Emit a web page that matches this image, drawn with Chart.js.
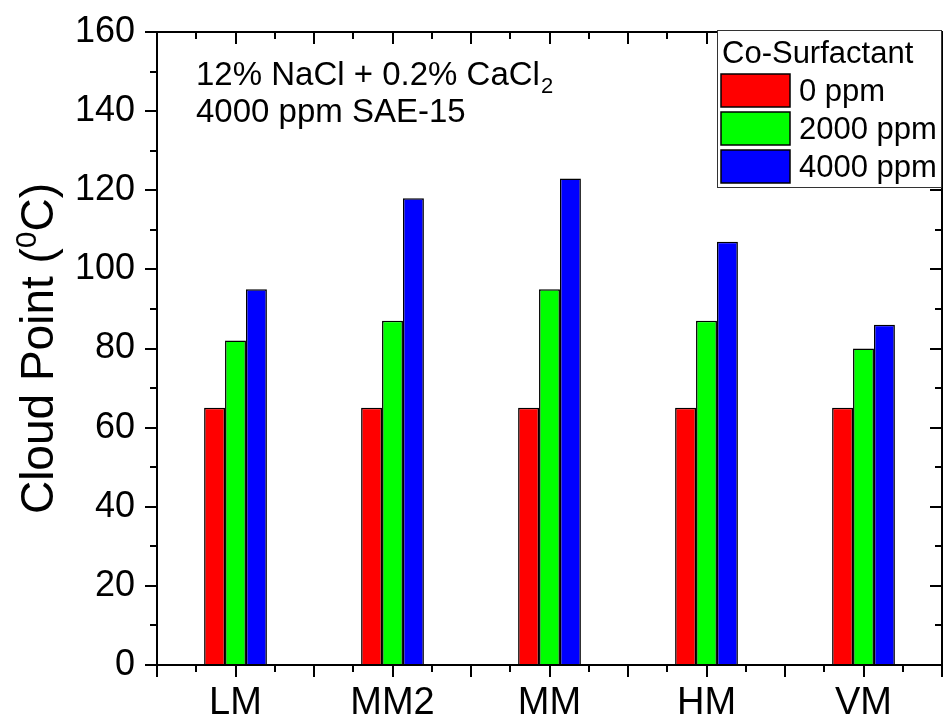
<!DOCTYPE html>
<html>
<head>
<meta charset="utf-8">
<script src="https://cdn.jsdelivr.net/npm/chart.js@4.4.1/dist/chart.umd.min.js"></script>
<style>
  html, body { margin: 0; padding: 0; background: #fff; }
  canvas { display: block; }
</style>
</head>
<body>
<canvas id="cloudChart" width="943" height="717"></canvas>
<script>
// data
const categories = ['LM', 'MM2', 'MM', 'HM', 'VM'];
const seriesLabels = ['0 ppm', '2000 ppm', '4000 ppm'];
const cp0ppm = [65, 65, 65, 65, 65];
const cp2000ppm = [82, 87, 95, 87, 80];
const cp4000ppm = [95, 118, 123, 107, 86];
const yMin = 0, yMax = 160, yStep = 20;

const FONT = "'Liberation Sans', Arial, sans-serif";
const barColors = ['#ff0000', '#00ff00', '#0000ff'];

// frame + ticks on all four sides (Origin style)
const framePlugin = {
    id: 'frame',
    afterDraw(chart) {
        const ctx = chart.ctx;
        const a = chart.chartArea;
        const xs = chart.scales.x, ys = chart.scales.y;
        ctx.save();
        ctx.strokeStyle = '#000';
        ctx.lineWidth = 2;
        ctx.strokeRect(a.left, a.top, a.right - a.left, a.bottom - a.top);

        const major = 12, minor = 7;
        ctx.beginPath();
        // y ticks
        for (let v = yMin; v <= yMax; v += yStep / 2) {
            const y = Math.round(ys.getPixelForValue(v));
            const len = (v % yStep === 0) ? major : minor;
            ctx.moveTo(a.left - len, y); ctx.lineTo(a.left, y);
            ctx.moveTo(a.right, y); ctx.lineTo(a.right - len, y);
        }
        // x ticks: major at categories and half way, minor in between
        const step = xs.getPixelForValue(1) - xs.getPixelForValue(0);
        for (let i = 0; i < categories.length; i++) {
            const c = xs.getPixelForValue(i);
            [[-0.5, major], [-0.25, minor], [0, major], [0.25, minor], [0.5, major]].forEach(function(t) {
                const x = Math.round(c + t[0] * step);
                ctx.moveTo(x, a.bottom); ctx.lineTo(x, a.bottom + t[1]);
                ctx.moveTo(x, a.top); ctx.lineTo(x, a.top + t[1]);
            });
        }
        ctx.stroke();

        // y axis title with superscript
        ctx.fillStyle = '#000';
        ctx.textBaseline = 'alphabetic';
        ctx.textAlign = 'left';
        const big = '46px ' + FONT, sup = '30px ' + FONT;
        ctx.font = big;
        const p1 = 'Cloud Point (', p3 = 'C)';
        const w1 = ctx.measureText(p1).width, w3 = ctx.measureText(p3).width;
        ctx.font = sup;
        const w2 = ctx.measureText('0').width;
        const total = w1 + w2 + w3;
        ctx.translate(53, (a.top + a.bottom) / 2);
        ctx.rotate(-Math.PI / 2);
        let x0 = -total / 2;
        ctx.font = big; ctx.fillText(p1, x0, 0);
        ctx.font = sup; ctx.fillText('0', x0 + w1, -17);
        ctx.font = big; ctx.fillText(p3, x0 + w1 + w2, 0);
        ctx.restore();

        // annotation
        ctx.save();
        ctx.fillStyle = '#000';
        ctx.textBaseline = 'alphabetic';
        ctx.font = '33px ' + FONT;
        const line1 = '12% NaCl + 0.2% CaCl';
        ctx.fillText(line1, 196, 85);
        const lw = ctx.measureText(line1).width;
        ctx.font = '22px ' + FONT;
        ctx.fillText('2', 196 + lw + 1, 93);
        ctx.font = '33px ' + FONT;
        ctx.fillText('4000 ppm SAE-15', 196, 122);
        ctx.restore();

        // legend box
        ctx.save();
        const lx = 717, ly = 30, lwid = 225, lh = 158;
        ctx.fillStyle = '#fff';
        ctx.fillRect(lx, ly, lwid, lh);
        ctx.strokeStyle = '#333';
        ctx.lineWidth = 1;
        ctx.strokeRect(lx + 0.5, ly + 0.5, lwid - 1, lh - 1);
        ctx.fillStyle = '#000';
        ctx.font = '31px ' + FONT;
        ctx.textBaseline = 'alphabetic';
        ctx.fillText('Co-Surfactant', lx + 5, 63);
        ctx.textBaseline = 'middle';
        chart.data.datasets.forEach(function(ds, i) {
            const top = 74 + i * 38;
            ctx.fillStyle = ds.backgroundColor;
            ctx.fillRect(lx + 4, top, 69, 33);
            ctx.strokeStyle = '#000';
            ctx.lineWidth = 1.5;
            ctx.strokeRect(lx + 4, top, 69, 33);
            ctx.fillStyle = '#000';
            ctx.fillText(ds.label, lx + 82, top + 18);
        });
        ctx.restore();
    }
};

const ctx = document.getElementById('cloudChart').getContext('2d');
new Chart(ctx, {
    type: 'bar',
    data: {
        labels: categories,
        datasets: [cp0ppm, cp2000ppm, cp4000ppm].map(function(vals, i) {
            return {
                label: seriesLabels[i],
                data: vals,
                backgroundColor: barColors[i],
                borderColor: '#000',
                borderWidth: 1.5,
                categoryPercentage: 0.4,
                barPercentage: 1.0
            };
        })
    },
    options: {
        responsive: false,
        animation: false,
        layout: { padding: { left: 0, right: 1, top: 32, bottom: 0 } },
        plugins: { legend: { display: false }, tooltip: { enabled: false } },
        scales: {
            x: {
                grid: { display: false, drawTicks: false },
                border: { display: false },
                ticks: { color: '#000', font: { family: FONT, size: 38 }, padding: 16 },
                afterFit(s) { s.height = 52; s.paddingLeft = 0; s.paddingRight = 0; }
            },
            y: {
                min: yMin, max: yMax,
                grid: { display: false, drawTicks: false },
                border: { display: false },
                ticks: { stepSize: yStep, color: '#000', font: { family: FONT, size: 36 }, padding: 22 },
                afterFit(s) { s.width = 157; s.paddingTop = 0; s.paddingBottom = 0; }
            }
        }
    },
    plugins: [framePlugin]
});
</script>
</body>
</html>
